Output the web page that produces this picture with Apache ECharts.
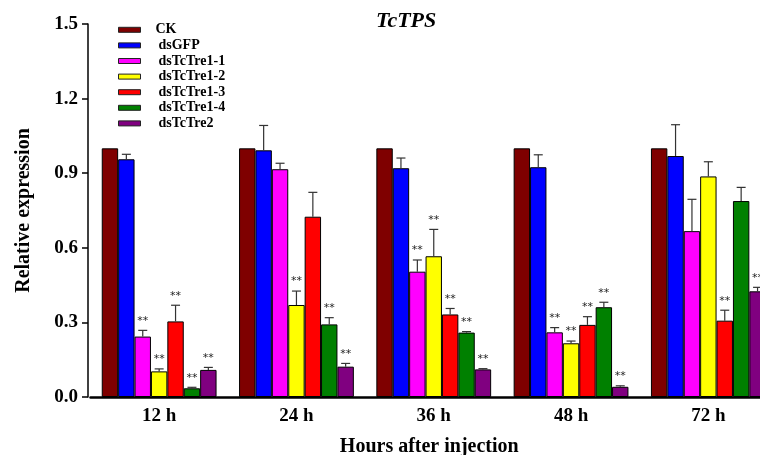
<!DOCTYPE html>
<html>
<head>
<meta charset="utf-8">
<script src="https://cdn.jsdelivr.net/npm/echarts@6/dist/echarts.min.js"></script>
<style>html,body{margin:0;padding:0;background:#fff}#c{width:760px;height:455px}</style>
</head>
<body>
<div id="c"></div>
<script>
var categories = ['12 h', '24 h', '36 h', '48 h', '72 h'];
var seriesNames = ['CK', 'dsGFP', 'dsTcTre1-1', 'dsTcTre1-2', 'dsTcTre1-3', 'dsTcTre1-4', 'dsTcTre2'];
var ck      = [1.000, 1.000, 1.000, 1.000, 1.000];
var dsGFP   = [0.956, 0.992, 0.920, 0.924, 0.969];
var tre1_1  = [0.243, 0.916, 0.504, 0.260, 0.667];
var tre1_2  = [0.103, 0.370, 0.566, 0.216, 0.887];
var tre1_3  = [0.304, 0.725, 0.332, 0.290, 0.307];
var tre1_4  = [0.035, 0.292, 0.259, 0.361, 0.788];
var tre2    = [0.109, 0.122, 0.111, 0.041, 0.425];
var errCK     = [0, 0, 0, 0, 0];
var errGFP    = [0.020, 0.100, 0.041, 0.050, 0.126];
var err1_1    = [0.025, 0.024, 0.047, 0.019, 0.128];
var err1_2    = [0.010, 0.056, 0.108, 0.009, 0.059];
var err1_3    = [0.065, 0.098, 0.024, 0.033, 0.042];
var err1_4    = [0.004, 0.027, 0.004, 0.020, 0.055];
var err2      = [0.010, 0.013, 0.003, 0.004, 0.016];
var sigCK     = [0, 0, 0, 0, 0];
var sigGFP    = [0, 0, 0, 0, 0];
var sig1_1    = [1, 0, 1, 1, 0];
var sig1_2    = [1, 1, 1, 1, 0];
var sig1_3    = [1, 0, 1, 1, 1];
var sig1_4    = [1, 1, 1, 1, 0];
var sig2      = [1, 1, 1, 1, 1];
var yTicks = [0, 0.3, 0.6, 0.9, 1.2, 1.5];

var values = [ck, dsGFP, tre1_1, tre1_2, tre1_3, tre1_4, tre2];
var errs = [errCK, errGFP, err1_1, err1_2, err1_3, err1_4, err2];
var sigs = [sigCK, sigGFP, sig1_1, sig1_2, sig1_3, sig1_4, sig2];
var colors = ['#7f0000', '#0000ff', '#ff00ff', '#ffff00', '#ff0000', '#008000', '#800080'];
var BW = 16.4;
var FONT = 'Liberation Serif';

var series = [];
seriesNames.forEach(function (n, i) {
  series.push({
    name: n, type: 'bar', data: values[i], barWidth: BW, barGap: '0%',
    itemStyle: { color: colors[i], borderColor: '#000', borderWidth: 1 },
    emphasis: { disabled: true }
  });
});
var errData = [];
seriesNames.forEach(function (n, i) {
  categories.forEach(function (c, j) {
    errData.push([j, values[i][j], errs[i][j], i, sigs[i][j]]);
  });
});
series.push({
  type: 'custom', z: 5, silent: true,
  data: errData,
  renderItem: function (params, api) {
    var cat = api.value(0), v = api.value(1), e = api.value(2), si = api.value(3), sg = api.value(4);
    var p0 = api.coord([cat, v]);
    var p1 = api.coord([cat, v + e]);
    var x = p0[0] + (si - 3) * BW;
    var children = [];
    if (e > 0) {
      children.push({ type: 'line', shape: { x1: x, y1: p0[1], x2: x, y2: p1[1] }, style: { stroke: '#333', lineWidth: 1.2 } });
      children.push({ type: 'line', shape: { x1: x - 4.5, y1: p1[1], x2: x + 4.5, y2: p1[1] }, style: { stroke: '#333', lineWidth: 1.2 } });
    }
    if (sg) {
      children.push({ type: 'text', style: { x: x, y: p1[1] - 4, text: '**', fill: '#222', font: '11px "DejaVu Sans"', textAlign: 'center', textVerticalAlign: 'bottom' } });
    }
    return { type: 'group', children: children };
  }
});

var legendData = seriesNames.map(function (n, i) {
  return { name: n, textStyle: { padding: [0, 0, 0, i === 0 ? 10 : 13] } };
});

var chart = echarts.init(document.getElementById('c'), null, { renderer: 'canvas' });
chart.setOption({
  animation: false,
  backgroundColor: '#fff',
  title: {
    text: 'TcTPS', left: 371, top: 5,
    textStyle: { fontFamily: FONT, fontWeight: 'bold', fontStyle: 'italic', fontSize: 22, color: '#000' }
  },
  legend: {
    orient: 'vertical', left: 113, top: 17, itemGap: 0, itemWidth: 22, itemHeight: 5,
    icon: 'rect', selectedMode: false,
    itemStyle: { borderColor: '#222', borderWidth: 1 },
    textStyle: { fontFamily: FONT, fontWeight: 'bold', fontSize: 14, color: '#000', lineHeight: 15.6 },
    data: legendData
  },
  grid: { left: 90.5, top: 24, bottom: 58, width: 686.5, containLabel: false, outerBoundsMode: 'none' },
  xAxis: {
    type: 'category', data: categories,
    axisLine: { lineStyle: { color: '#000', width: 2.5 } },
    axisTick: { show: false },
    axisLabel: { fontFamily: FONT, fontWeight: 'bold', fontSize: 19, color: '#000', margin: 10 },
    name: 'Hours after injection', nameLocation: 'middle', nameGap: 40,
    nameTextStyle: { fontFamily: FONT, fontWeight: 'bold', fontSize: 20, color: '#000', padding: [0, 9, 0, 0] }
  },
  yAxis: {
    type: 'value', min: 0, max: 1.5, interval: 0.3, offset: 2.5,
    axisLine: { show: true, lineStyle: { color: '#000', width: 1.5 } },
    axisTick: { show: true, inside: false, length: 6, lineStyle: { color: '#000', width: 1.5 } },
    splitLine: { show: false },
    axisLabel: {
      fontFamily: FONT, fontWeight: 'bold', fontSize: 19, color: '#000', margin: 10,
      formatter: function (v) { return v.toFixed(1); }
    },
    name: 'Relative expression', nameLocation: 'middle', nameGap: 54, nameRotate: 90,
    nameTextStyle: { fontFamily: FONT, fontWeight: 'bold', fontSize: 20, color: '#000' }
  },
  series: series
});
</script>
</body>
</html>
